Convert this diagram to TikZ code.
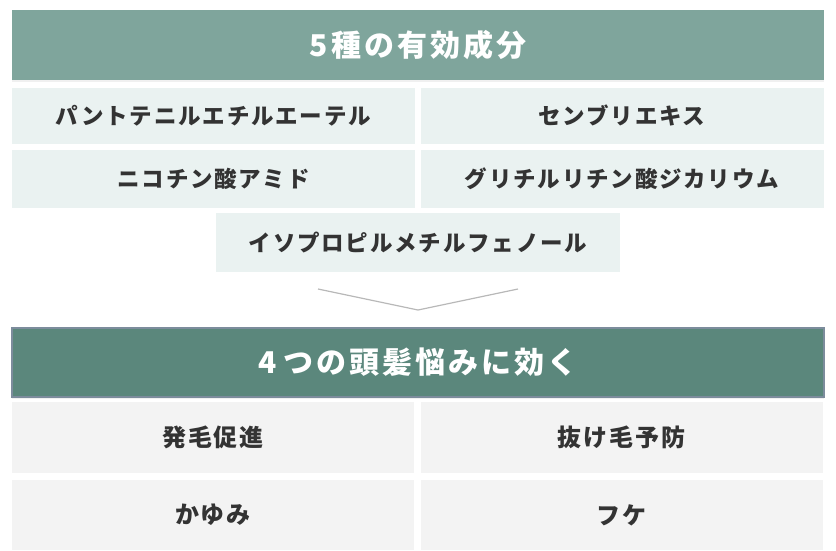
\documentclass[tikz,border=0pt]{standalone}
\usepackage{fontspec}
\newfontfamily\headfont[LetterSpace=10]{Noto Sans CJK JP}
\newfontfamily\boxfont[LetterSpace=8]{Noto Sans CJK JP}
\usetikzlibrary{shadows}
\definecolor{headlight}{HTML}{7FA59C}
\definecolor{headdark}{HTML}{5B877C}
\definecolor{headedge}{HTML}{7C8C9C}
\definecolor{ingfill}{HTML}{EAF2F1}
\definecolor{efffill}{HTML}{F3F3F3}
\definecolor{textdark}{HTML}{333333}
\tikzset{
  headbox/.style={rectangle, minimum width=812pt, minimum height=70pt, inner sep=0pt,
    text=white, font=\headfont\bfseries\fontsize{30}{30}\selectfont,
    drop shadow={opacity=0.12, shadow xshift=0pt, shadow yshift=-2pt}},
  ingbox/.style={rectangle, fill=ingfill, minimum width=403pt, minimum height=56pt, inner sep=0pt,
    text=textdark, font=\boxfont\bfseries\fontsize{22.5}{22.5}\selectfont},
  effbox/.style={rectangle, fill=efffill, minimum width=402pt, minimum height=71pt, inner sep=0pt,
    text=textdark, font=\boxfont\bfseries\fontsize{24}{24}\selectfont}
}
\begin{document}
\begin{tikzpicture}[x=1pt,y=-1pt]
  \useasboundingbox (0,0) rectangle (836,550);
  % ingredients
  \node[headbox, fill=headlight] (ingredients) at (418,45) {5種の有効成分};
  \node[ingbox] (panthenyl) at (213.5,115.5) {パントテニルエチルエーテル};
  \node[ingbox] (centella) at (622,115.5) {センブリエキス};
  \node[ingbox, minimum height=58pt] (niacin) at (213.5,179) {ニコチン酸アミド};
  \node[ingbox, minimum height=58pt] (glycyr) at (622,179) {グリチルリチン酸ジカリウム};
  \node[ingbox, minimum width=404pt, minimum height=59pt] (isopropyl) at (418,242.5) {イソプロピルメチルフェノール};
  % chevron
  \coordinate (chl) at (318,289);
  \coordinate (chm) at (418,310);
  \coordinate (chr) at (518,289);
  \draw[black!28, line width=1.2pt] (chl) -- (chm) -- (chr);
  % effects
  \node[headbox, fill=headdark, draw=headedge, line width=1.5pt, minimum height=69pt] (effects) at (418,362.5) {4\hspace{7pt}つの頭髪悩みに効く};
  \node[effbox] (growth) at (213,437) {発毛促進};
  \node[effbox] (hairloss) at (621.5,437) {抜け毛予防};
  \node[effbox, minimum height=70pt] (itch) at (213,515) {かゆみ};
  \node[effbox, minimum height=70pt] (dandruff) at (621.5,515) {フケ};
\end{tikzpicture}
\end{document}
